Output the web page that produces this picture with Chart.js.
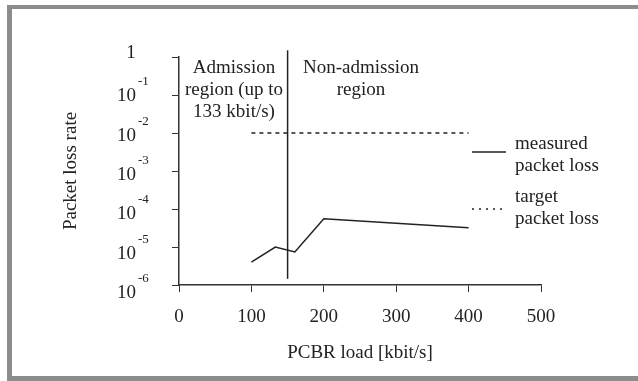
<!DOCTYPE html>
<html>
<head>
<meta charset="utf-8">
<script src="https://cdn.jsdelivr.net/npm/chart.js@4.4.1/dist/chart.umd.min.js"></script>
<style>
  html, body { margin: 0; padding: 0; background: #fff; }
  canvas { display: block; }
</style>
</head>
<body>
<canvas id="lossChart" width="638" height="381"></canvas>
<script>
// data
const loadKbit = [100, 133, 160, 200, 400];
const measuredLoss = [4.0e-6, 1.0e-5, 7.4e-6, 5.5e-5, 3.2e-5];
const targetKbit = [100, 400];
const targetLoss = [1e-2, 1e-2];
const boundaryKbit = [150, 150];
const boundaryLoss = [1.45e-6, 1.5];
const xTicks = [0, 100, 200, 300, 400, 500];
const yTicks = [1e-6, 1e-5, 1e-4, 1e-3, 1e-2, 1e-1, 1];
const yExponents = [-6, -5, -4, -3, -2, -1, 0];
const legendLines = [['measured', 'packet loss'], ['target', 'packet loss']];

const FONT = "'Liberation Serif', 'Times New Roman', serif";
const INK = '#222';

// frame, y tick labels with superscripts, region notes, legend
const figurePlugin = {
  id: 'figure',
  beforeDraw(chart) {
    const ctx = chart.ctx;
    ctx.save();
    ctx.fillStyle = '#fff';
    ctx.fillRect(0, 0, chart.width, chart.height);
    ctx.fillStyle = '#8c8c8c';
    ctx.fillRect(7, 5, chart.width - 7, 4);
    ctx.fillRect(7, 5, 5, chart.height - 5);
    ctx.fillRect(7, 376, chart.width - 7, 5);
    ctx.restore();
  },
  afterDraw(chart) {
    const ctx = chart.ctx;
    const y = chart.scales.y;
    ctx.save();
    ctx.fillStyle = INK;

    // y tick labels
    yTicks.forEach((v, i) => {
      const py = y.getPixelForValue(v);
      const k = -yExponents[i];
      if (k === 0) {
        ctx.font = '19px ' + FONT;
        ctx.textAlign = 'center';
        ctx.textBaseline = 'alphabetic';
        ctx.fillText('1', 131, py + 1);
        return;
      }
      const base = py + 5 + 1.3 * k;
      ctx.font = '19px ' + FONT;
      ctx.textAlign = 'right';
      ctx.textBaseline = 'alphabetic';
      ctx.fillText('10', 136, base);
      ctx.font = '13px ' + FONT;
      ctx.textAlign = 'left';
      ctx.fillText(String(yExponents[i]), 138, base - 16);
    });

    // region notes
    ctx.font = '19px ' + FONT;
    ctx.textAlign = 'center';
    ctx.textBaseline = 'alphabetic';
    ['Admission', 'region (up to', '133 kbit/s)'].forEach((t, i) => {
      ctx.fillText(t, 234, 73 + 22 * i);
    });
    ['Non-admission', 'region'].forEach((t, i) => {
      ctx.fillText(t, 361, 73 + 22 * i);
    });

    // legend
    const rows = [149, 202];
    chart.data.datasets.slice(0, 2).forEach((ds, i) => {
      const sy = i === 0 ? 152 : 209;
      ctx.save();
      ctx.strokeStyle = ds.borderColor;
      ctx.lineWidth = ds.borderWidth;
      ctx.setLineDash(i === 0 ? [] : [2, 5]);
      ctx.beginPath();
      ctx.moveTo(472, sy);
      ctx.lineTo(506, sy);
      ctx.stroke();
      ctx.restore();
      ctx.textAlign = 'left';
      legendLines[i].forEach((t, j) => {
        ctx.fillText(t, 515, rows[i] + 22 * j);
      });
    });
    ctx.restore();
  }
};

new Chart(document.getElementById('lossChart').getContext('2d'), {
  type: 'line',
  data: {
    datasets: [
      {
        label: legendLines[0].join(' '),
        data: loadKbit.map((x, i) => ({ x: x, y: measuredLoss[i] })),
        borderColor: INK,
        borderWidth: 1.5,
        pointRadius: 0,
        tension: 0
      },
      {
        label: legendLines[1].join(' '),
        data: targetKbit.map((x, i) => ({ x: x, y: targetLoss[i] })),
        borderColor: INK,
        borderWidth: 1.5,
        borderDash: [4, 4],
        pointRadius: 0
      },
      {
        label: 'boundary',
        data: boundaryKbit.map((x, i) => ({ x: x, y: boundaryLoss[i] })),
        borderColor: INK,
        borderWidth: 1.5,
        pointRadius: 0,
        clip: false
      }
    ]
  },
  options: {
    responsive: false,
    animation: false,
    devicePixelRatio: 1,
    layout: { padding: { left: 0, top: 57, right: 97, bottom: 0 } },
    plugins: {
      legend: { display: false },
      tooltip: { enabled: false }
    },
    scales: {
      x: {
        type: 'linear',
        min: 0,
        max: 500,
        afterBuildTicks: function (scale) {
          scale.ticks = xTicks.map(v => ({ value: v }));
        },
        afterFit: function (scale) { scale.height = 96; },
        grid: { drawOnChartArea: false, drawTicks: true, tickLength: 7, color: '#333' },
        border: { display: true, color: '#333', width: 1.5 },
        ticks: {
          color: INK,
          font: { family: FONT, size: 19 },
          padding: 14,
          maxRotation: 0
        },
        title: {
          display: true,
          text: 'PCBR load [kbit/s]',
          color: INK,
          font: { family: FONT, size: 19 },
          padding: { top: 0, bottom: 17 }
        }
      },
      y: {
        type: 'logarithmic',
        min: 1e-6,
        max: 1,
        afterBuildTicks: function (scale) {
          scale.ticks = yTicks.map(v => ({ value: v }));
        },
        afterFit: function (scale) { scale.width = 179; },
        grid: { drawOnChartArea: false, drawTicks: true, tickLength: 7, color: '#333' },
        border: { display: true, color: '#333', width: 1.5 },
        ticks: { display: false },
        title: {
          display: true,
          text: 'Packet loss rate',
          color: INK,
          font: { family: FONT, size: 19 },
          padding: { top: 60, bottom: 0 }
        }
      }
    }
  },
  plugins: [figurePlugin]
});
</script>
</body>
</html>
